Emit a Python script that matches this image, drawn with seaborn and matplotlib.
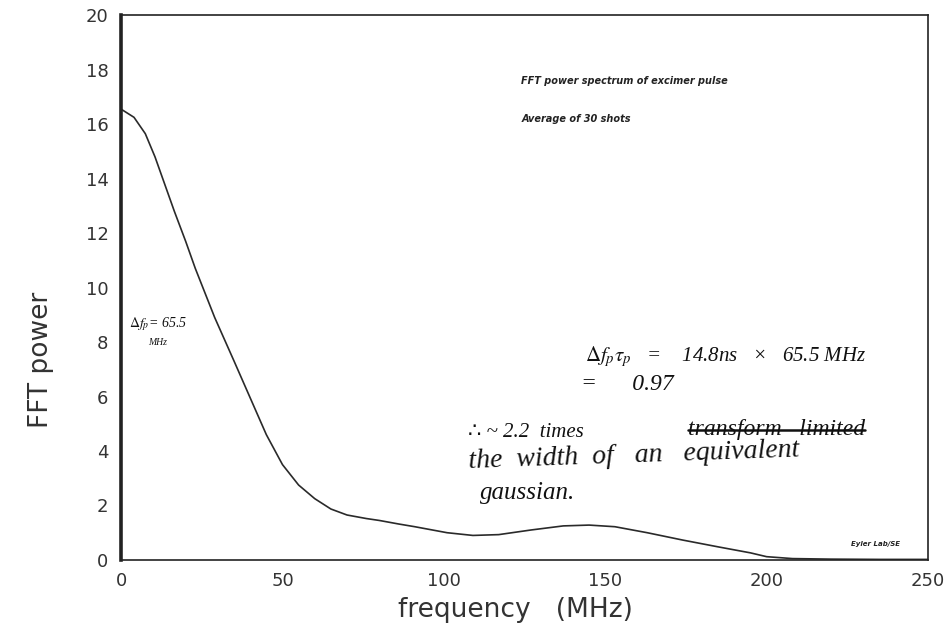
import seaborn as sns
import matplotlib.pyplot as plt
import pandas as pd
from matplotlib.lines import Line2D

# Valores (frecuencia en MHz, potencia FFT)
frequency = [0, 4, 7.5, 10.5, 13.5, 16.5, 20, 23, 26, 29, 35, 40, 45, 50, 55, 60, 65,
             70, 76, 80, 86, 91, 101, 109, 117, 127, 137, 145, 153, 163, 174, 185,
             195, 200, 208, 220, 235, 250]
power = [16.55, 16.25, 15.65, 14.8, 13.8, 12.8, 11.7, 10.7, 9.8, 8.9, 7.3, 5.95, 4.6,
         3.5, 2.75, 2.25, 1.87, 1.65, 1.52, 1.45, 1.32, 1.22, 1.0, 0.9, 0.93, 1.1,
         1.25, 1.28, 1.22, 1.0, 0.73, 0.48, 0.26, 0.12, 0.05, 0.03, 0.02, 0.02]

x_ticks = [0, 50, 100, 150, 200, 250]
y_ticks = [0, 2, 4, 6, 8, 10, 12, 14, 16, 18, 20]

df = pd.DataFrame({'frequency': frequency, 'power': power})

sns.set_style('white')
plt.rcParams['font.family'] = ['DejaVu Sans']
plt.rcParams['mathtext.fontset'] = 'stix'

fig = plt.figure(figsize=(9.46, 6.32), dpi=100)
ax = fig.add_axes([0.128, 0.114, 0.853, 0.862])

sns.lineplot(data=df, x='frequency', y='power', ax=ax, color='#2a2a2a', linewidth=1.2)

ax.set_xlim(0, 250)
ax.set_ylim(0, 20)
ax.set_xticks(x_ticks)
ax.set_yticks(y_ticks)
ax.tick_params(direction='in', length=7, width=1.2, colors='#333333',
               labelsize=13, pad=9)
ax.set_xlabel('')
ax.set_ylabel('')

for name, sp in ax.spines.items():
    sp.set_visible(True)
    sp.set_color('#222222')
    sp.set_linewidth(1.2)
ax.spines['left'].set_linewidth(2.6)

# Etiquetas de los ejes (fuera de centro como en el original)
fig.text(0.545, 0.035, 'frequency   (MHz)', fontsize=19, color='#333333',
         ha='center', va='center')
fig.text(0.043, 0.43, 'FFT power', fontsize=19, color='#333333',
         rotation=90, ha='center', va='center')

# Texto impreso
ax.text(0.496, 0.874, 'FFT power spectrum of excimer pulse', transform=ax.transAxes,
        fontsize=7, style='italic', weight='bold', color='#222222')
ax.text(0.496, 0.804, 'Average of 30 shots', transform=ax.transAxes,
        fontsize=7, style='italic', weight='bold', color='#222222')
ax.text(0.905, 0.026, 'Eyler Lab/SE', transform=ax.transAxes,
        fontsize=5, style='italic', weight='bold', color='#222222')

# Anotaciones a mano
hand = dict(family=['Liberation Serif', 'DejaVu Sans'], style='italic', color='#111111')
ax.text(0.01, 0.428, '$\\Delta f_p$= 65.5', transform=ax.transAxes, fontsize=10, **hand)
ax.text(0.033, 0.395, 'MHz', transform=ax.transAxes, fontsize=7, **hand)
ax.text(0.575, 0.365, '$\\Delta f_p \\tau_p$   =    14.8ns   ×   65.5 MHz',
        transform=ax.transAxes, fontsize=15, **hand)
ax.text(0.57, 0.312, '=      0.97', transform=ax.transAxes, fontsize=17, **hand)
ax.text(0.43, 0.226, '∴ ~ 2.2  times', transform=ax.transAxes, fontsize=15, **hand)
struck = ax.text(0.703, 0.23, 'transform   limited', transform=ax.transAxes,
                 fontsize=17, **hand)
ax.text(0.43, 0.168, 'the  width  of   an   equivalent', transform=ax.transAxes,
        fontsize=20, rotation=2, **hand)
ax.text(0.445, 0.112, 'gaussian.', transform=ax.transAxes, fontsize=18, **hand)

# Tachado de la palabra
fig.canvas.draw()
bb = struck.get_window_extent().transformed(fig.transFigure.inverted())
ymid = bb.y0 + bb.height * 0.45
fig.add_artist(Line2D([bb.x0, bb.x1], [ymid, ymid], color='#111111', linewidth=1.8))

fig.savefig('out.png', dpi=100)
